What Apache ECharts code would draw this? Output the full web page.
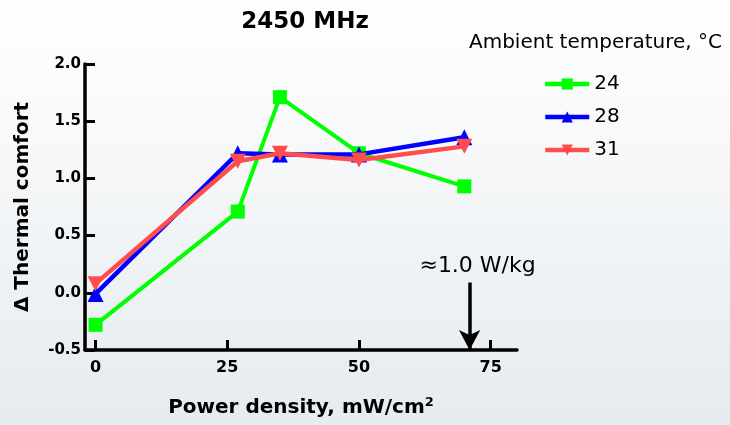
<!DOCTYPE html>
<html>
<head>
<meta charset="utf-8">
<script src="https://cdn.jsdelivr.net/npm/echarts@6/dist/echarts.min.js"></script>
<style>html,body{margin:0;padding:0;}#c{width:730px;height:425px;}</style>
</head>
<body>
<div id="c"></div>
<script>
// ---- data ----
const powerDensity = [0, 27, 35, 50, 70];
const comfort24 = [-0.28, 0.71, 1.71, 1.22, 0.93];
const comfort28 = [-0.01, 1.22, 1.21, 1.21, 1.36];
const comfort31 = [0.08, 1.15, 1.22, 1.16, 1.28];
const seriesNames = ['24', '28', '31'];
const xTicks = [0, 25, 50, 75];
const yTicks = [-0.5, 0, 0.5, 1.0, 1.5, 2.0];
const arrowX = 71;
const arrowFromY = 0.09;
const arrowToY = -0.5;
const annotationText = '\u22481.0 W/kg';

const pairs = arr => powerDensity.map((x, i) => [x, arr[i]]);
const FONT = 'DejaVu Sans';
const downTri = 'path://M0,0 L10,0 L5,9 Z';

const chart = echarts.init(document.getElementById('c'), null, {renderer: 'canvas'});
chart.setOption({
  backgroundColor: {type: 'linear', x: 0, y: 0, x2: 0, y2: 1,
    colorStops: [{offset: 0, color: '#ffffff'}, {offset: 1, color: '#e6ebef'}]},
  animation: false,
  title: [
    {text: '2450 MHz', left: 300, top: 6, textAlign: 'center',
     textStyle: {fontFamily: FONT, fontWeight: 'bold', fontSize: 23, color: '#000'}},
    {text: 'Ambient temperature, \u00b0C', left: 469, top: 33, padding: 0,
     textStyle: {fontFamily: FONT, fontWeight: 'normal', fontSize: 20, color: '#000'}}
  ],
  legend: {
    orient: 'vertical', left: 543, top: 74, padding: 0,
    itemWidth: 44, itemHeight: 14, itemGap: 13, itemTextGap: 6,
    lineStyle: {width: 4.5},
    textStyle: {fontFamily: FONT, fontSize: 20, color: '#000'},
    data: seriesNames
  },
  grid: {left: 85, right: 213, top: 64, bottom: 75, containLabel: false},
  xAxis: {
    type: 'value', min: -2, max: 80,
    name: 'Power density, mW/cm{s|2}', nameLocation: 'middle', nameGap: 46,
    nameTextStyle: {fontFamily: FONT, fontWeight: 'bold', fontSize: 20, color: '#000',
      rich: {s: {fontFamily: FONT, fontWeight: 'bold', fontSize: 13, verticalAlign: 'top', padding: [0, 0, 10, 0]}}},
    axisLine: {onZero: false, lineStyle: {color: '#000', width: 3.5}},
    axisTick: {inside: true, length: 10, lineStyle: {color: '#000', width: 3}, customValues: xTicks},
    axisLabel: {fontFamily: FONT, fontWeight: 'bold', fontSize: 16, color: '#000', margin: 10, customValues: xTicks},
    splitLine: {show: false}
  },
  yAxis: {
    type: 'value', min: -0.5, max: 2.0, interval: 0.5,
    name: '\u0394 Thermal comfort', nameLocation: 'middle', nameGap: 52,
    nameTextStyle: {fontFamily: FONT, fontWeight: 'bold', fontSize: 20, color: '#000'},
    axisLine: {onZero: false, lineStyle: {color: '#000', width: 3.5}},
    axisTick: {inside: true, length: 10, lineStyle: {color: '#000', width: 3}},
    axisLabel: {fontFamily: FONT, fontWeight: 'bold', fontSize: 15, color: '#000', margin: 4,
      formatter: v => v.toFixed(1)},
    splitLine: {show: false}
  },
  series: [
    {name: seriesNames[0], type: 'line', data: pairs(comfort24), symbol: 'rect', symbolSize: 14,
     color: '#00ff00', lineStyle: {width: 4, color: '#00ff00'}, itemStyle: {color: '#00ff00'}, z: 2,
     markLine: {
       silent: true, symbol: ['none', 'arrow'], symbolSize: [16, 20],
       lineStyle: {color: '#000', width: 3.5, type: 'solid'},
       label: {show: true, position: 'start', formatter: annotationText, distance: 4,
         fontFamily: FONT, fontSize: 22, color: '#000', offset: [8, -1]},
       data: [[{coord: [arrowX, arrowFromY]}, {coord: [arrowX, arrowToY]}]]
     }},
    {name: seriesNames[1], type: 'line', data: pairs(comfort28), symbol: 'triangle', symbolSize: 16,
     color: '#0000ff', lineStyle: {width: 4.5, color: '#0000ff'}, itemStyle: {color: '#0000ff'}, z: 3},
    {name: seriesNames[2], type: 'line', data: pairs(comfort31), symbol: downTri, symbolSize: [16, 15],
     color: '#ff4d4d', lineStyle: {width: 4.5, color: '#ff4d4d'}, itemStyle: {color: '#ff4d4d'}, z: 4}
  ]
});
</script>
</body>
</html>
